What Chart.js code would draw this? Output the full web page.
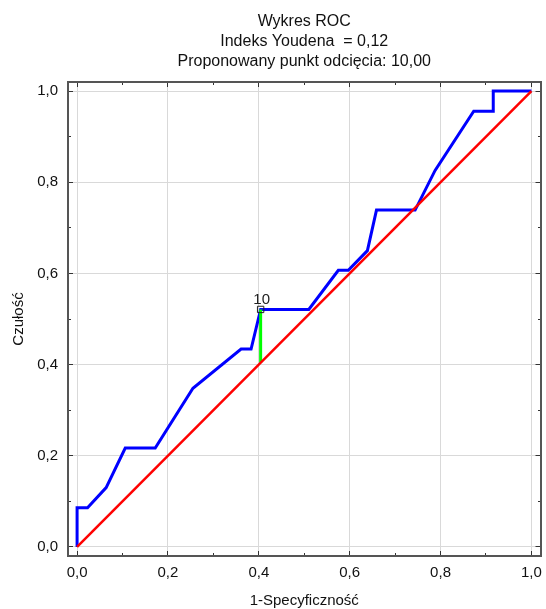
<!DOCTYPE html>
<html lang="pl">
<head>
<meta charset="utf-8">
<title>Wykres ROC</title>
<script src="https://cdn.jsdelivr.net/npm/chart.js@4.4.1/dist/chart.umd.min.js"></script>
<style>
    html, body { margin: 0; padding: 0; background: #fff; }
    #wrap { position: relative; width: 546px; height: 609px; }
</style>
</head>
<body>
<div id="wrap"><canvas id="rocChart"></canvas></div>
<script>
// --- chart data ---
const titleLines = ['Wykres ROC', 'Indeks Youdena  = 0,12', 'Proponowany punkt odcięcia: 10,00'];
const xAxisTitle = '1-Specyficzność';
const yAxisTitle = 'Czułość';

const tickValues = [0, 0.1, 0.2, 0.3, 0.4, 0.5, 0.6, 0.7, 0.8, 0.9, 1.0];
const tickLabels = ['0,0', '', '0,2', '', '0,4', '', '0,6', '', '0,8', '', '1,0'];

// ROC curve (1-specificity, sensitivity)
const rocX = [0, 0, 0.023, 0.064, 0.106, 0.172, 0.255, 0.361, 0.383, 0.404, 0.510,
              0.575, 0.597, 0.639, 0.659, 0.744, 0.788, 0.873, 0.916, 0.916, 1.0];
const rocY = [0, 0.086, 0.086, 0.130, 0.217, 0.217, 0.348, 0.434, 0.434, 0.521, 0.521,
              0.607, 0.607, 0.650, 0.739, 0.739, 0.826, 0.956, 0.956, 1.0, 1.0];

// reference diagonal
const diagX = [0, 1];
const diagY = [0, 1];

// Youden cut-off segment
const cutX = [0.404, 0.404];
const cutY = [0.404, 0.521];
const cutPointLabel = '10';

const axisMin = -0.02;
const axisMax = 1.02;

function toPoints(xs, ys) {
    return xs.map((x, i) => ({ x: x, y: ys[i] }));
}

Chart.defaults.font.family = '"Liberation Sans", Arial, sans-serif';
Chart.defaults.color = '#111';

/**
 * Builds one of the four frame axes (ticks point inward, minor ticks are shorter)
 */
function makeAxis(position, size, isMain) {
    const horizontal = position === 'top' || position === 'bottom';
    const startsInside = position === 'top' || position === 'left';
    return {
        type: 'linear',
        position: position,
        min: axisMin,
        max: axisMax,
        afterBuildTicks: function(scale) {
            scale.ticks = tickValues.map(v => ({ value: v }));
        },
        afterFit: function(scale) {
            if (horizontal) scale.height = size; else scale.width = size;
            scale.paddingLeft = 0;
            scale.paddingRight = 0;
            scale.paddingTop = 0;
            scale.paddingBottom = 0;
        },
        border: { display: true, color: '#555', width: 2 },
        grid: {
            drawOnChartArea: isMain,
            color: ctx => ctx.index % 2 === 0 ? '#d9d9d9' : 'rgba(0,0,0,0)',
            lineWidth: 1,
            tickLength: -5,
            tickWidth: 1,
            tickColor: '#333',
            tickBorderDash: ctx => ctx.index % 2 === 0 ? [] : (startsInside ? [0, 2, 4, 100] : [4, 100])
        },
        ticks: {
            display: isMain,
            autoSkip: false,
            maxRotation: 0,
            padding: horizontal ? 13 : 15,
            font: { size: 15 },
            color: '#111',
            callback: function(value, index) {
                return tickLabels[index];
            }
        }
    };
}

const xAxis = makeAxis('bottom', 53, true);
xAxis.title = { display: true, text: xAxisTitle, font: { size: 15, lineHeight: 1 }, padding: { top: 0, bottom: 0.5 }, color: '#111' };

const yAxis = makeAxis('left', 68, true);
yAxis.title = { display: true, text: yAxisTitle, font: { size: 15, lineHeight: 1 }, padding: { top: 11, bottom: 0 }, color: '#111' };

const xTop = makeAxis('top', 82, false);
xTop.title = { display: true, text: titleLines, font: { size: 16, lineHeight: 1.25 }, padding: { top: 12, bottom: 0 }, color: '#111' };

const yRight = makeAxis('right', 4, false);

// "10" label above the cut-off point marker
const cutLabelPlugin = {
    id: 'cutLabel',
    afterDatasetsDraw(chart) {
        const pt = chart.getDatasetMeta(0).data[0];
        const ctx = chart.ctx;
        ctx.save();
        ctx.font = '15px "Liberation Sans", Arial, sans-serif';
        ctx.fillStyle = '#222';
        ctx.textAlign = 'center';
        ctx.textBaseline = 'middle';
        ctx.fillText(cutPointLabel, pt.x + 1, pt.y - 10);
        ctx.restore();
    }
};

const ctx = document.getElementById('rocChart').getContext('2d');
new Chart(ctx, {
    type: 'scatter',
    data: {
        datasets: [
            {
                label: 'Punkt odcięcia',
                data: toPoints([cutX[1]], [cutY[1]]),
                pointStyle: 'rect',
                pointRadius: 4.5,
                borderColor: '#222',
                borderWidth: 1,
                backgroundColor: 'rgba(0,0,0,0)',
                showLine: false
            },
            {
                label: 'Linia odniesienia',
                data: toPoints(diagX, diagY),
                showLine: true,
                borderColor: '#ff0000',
                borderWidth: 2.5,
                pointRadius: 0
            },
            {
                label: 'Indeks Youdena',
                data: toPoints(cutX, cutY),
                showLine: true,
                borderColor: '#00ff00',
                borderWidth: 3,
                pointRadius: 0
            },
            {
                label: 'ROC',
                data: toPoints(rocX, rocY),
                showLine: true,
                borderColor: '#0000ff',
                borderWidth: 3,
                pointRadius: 0
            }
        ]
    },
    options: {
        responsive: true,
        maintainAspectRatio: false,
        animation: false,
        layout: { padding: 0 },
        plugins: {
            legend: { display: false },
            tooltip: { enabled: false }
        },
        scales: {
            x: xAxis,
            y: yAxis,
            xTop: xTop,
            yRight: yRight
        }
    },
    plugins: [cutLabelPlugin]
});
</script>
</body>
</html>
